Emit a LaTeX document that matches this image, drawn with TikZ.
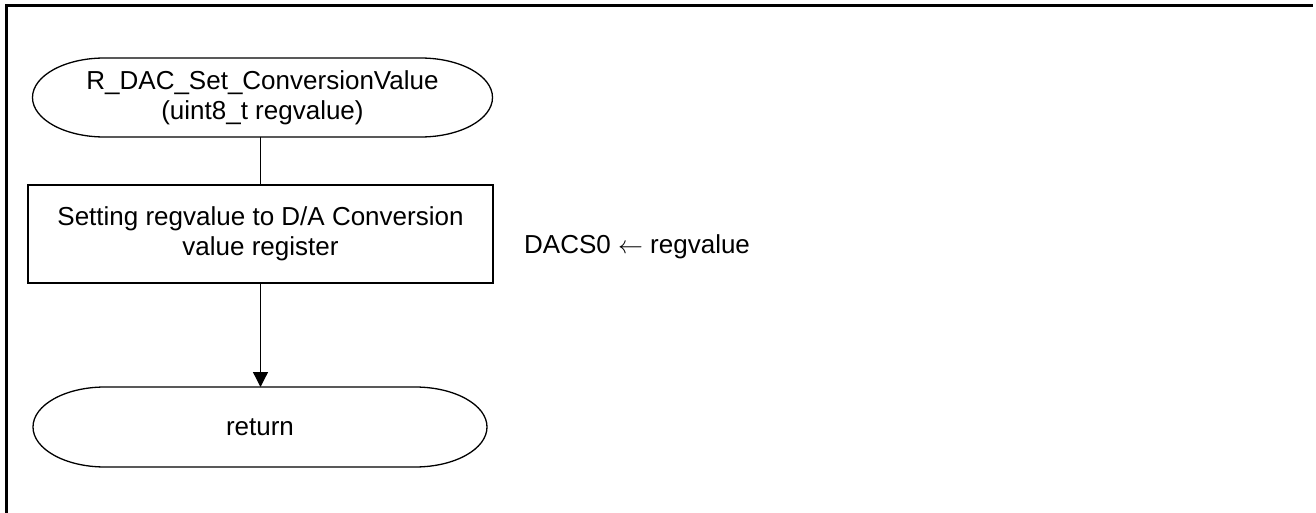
\documentclass[tikz,border=0pt]{standalone}
\usepackage{fontspec}
\setmainfont{Liberation Sans}
\usetikzlibrary{arrows.meta}
\newcommand\termpath[3]{%
  \draw[shapeline] ([xshift=#2]#1.north west) -- ([xshift=-#2]#1.north east)
    arc[start angle=90,end angle=-90,x radius=#2,y radius=#3]
    -- ([xshift=#2]#1.south west)
    arc[start angle=270,end angle=90,x radius=#2,y radius=#3] -- cycle;}
\begin{document}
\begin{tikzpicture}[x=1pt,y=-1pt,
  font=\fontsize{26}{30}\selectfont,
  shapeline/.style={line width=1.3pt},
  termnode/.style={inner sep=0pt,outer sep=0pt,align=center},
  procbox/.style={draw,line width=1.3pt,inner sep=0pt,outer sep=0pt,align=center,
    minimum width=465pt,minimum height=98pt},
  flow/.style={line width=1.3pt,-{Triangle[length=15pt,width=15pt]}}]
\useasboundingbox (0,0) rectangle (1316,513);
\draw[line width=2.5pt] (6.5,513) -- (6.5,5.5) -- (1313,5.5);
\node[termnode,minimum width=460pt,minimum height=79pt] (start) at (262.5,97.5)
  {R\_DAC\_Set\_ConversionValue\\(uint8\_t regvalue)};
\termpath{start}{72pt}{39.5pt}
\node[procbox] (set) at (260.5,234)
  {Setting regvalue to D/A Conversion\\value register};
\node[termnode,minimum width=454pt,minimum height=80pt] (ret) at (260,427) {return};
\termpath{ret}{72pt}{40pt}
\node[anchor=west,inner sep=0pt] (note) at (524,247) {DACS0 $\leftarrow$ regvalue};
\draw[shapeline] (start.south -| set.north) -- (set.north);
\draw[flow] (set.south) -- (ret.north -| set.south);
\end{tikzpicture}
\end{document}
